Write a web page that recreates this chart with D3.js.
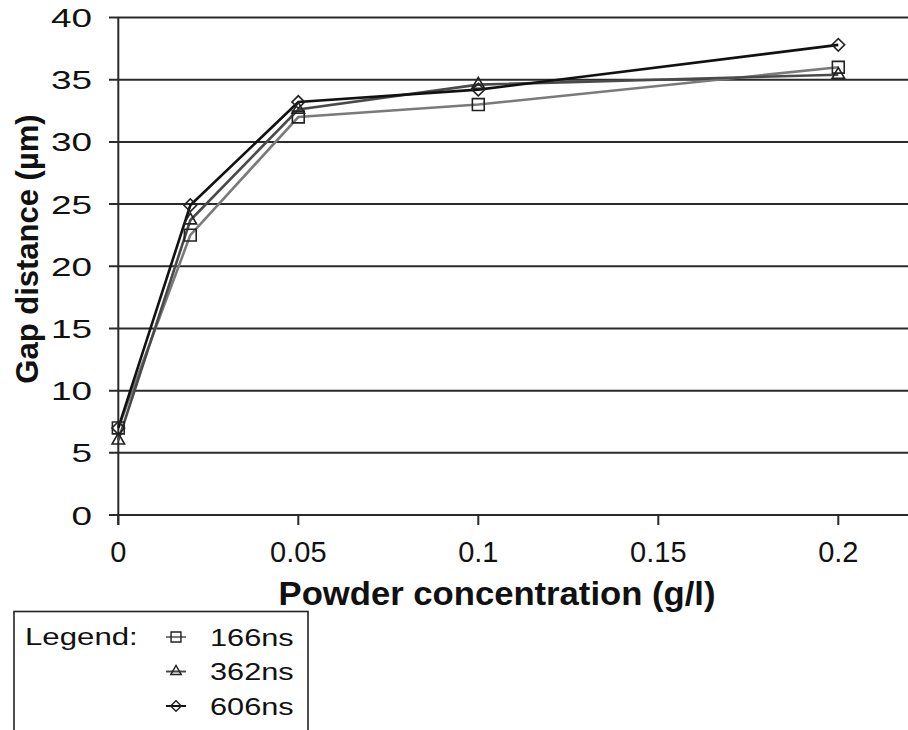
<!DOCTYPE html>
<html>
<head>
<meta charset="utf-8">
<script src="https://cdn.jsdelivr.net/npm/d3@7"></script>
<style>
  html, body { margin: 0; padding: 0; background: #fff; }
  svg { display: block; font-family: "Liberation Sans", Arial, sans-serif; }
</style>
</head>
<body>
<svg id="chart" width="908" height="730"></svg>
<script>
// ---- data ----
const concentrations = [0, 0.02, 0.05, 0.1, 0.2];
const series166 = [7.0, 22.5, 32.0, 33.0, 36.0];
const series362 = [6.0, 23.7, 32.6, 34.6, 35.4];
const series606 = [7.0, 24.9, 33.2, 34.2, 37.8];
const seriesNames = ["166ns", "362ns", "606ns"];
const xTicks = [0, 0.05, 0.1, 0.15, 0.2];
const xTickLabels = ["0", "0.05", "0.1", "0.15", "0.2"];
const yTicks = [0, 5, 10, 15, 20, 25, 30, 35, 40];
const xTitle = "Powder concentration (g/l)";
const yTitle = "Gap distance (µm)";
const legendTitle = "Legend:";

const svg = d3.select("#chart");
const x = d3.scaleLinear().domain([0, 0.22]).range([118.3, 910.3]);
const y = d3.scaleLinear().domain([0, 40]).range([515, 17.5]);

const seriesList = [
  { name: seriesNames[0], values: series166, color: "#7a7a7a", symbol: d3.symbolSquare, size: 140, rot: 0 },
  { name: seriesNames[1], values: series362, color: "#4a4a4a", symbol: d3.symbolTriangle, size: 68, rot: 0 },
  { name: seriesNames[2], values: series606, color: "#111111", symbol: d3.symbolSquare, size: 80, rot: 45 }
];

// grid lines
svg.append("g").selectAll("line").data(yTicks).join("line")
  .attr("x1", 109).attr("x2", 908)
  .attr("y1", d => y(d)).attr("y2", d => y(d))
  .attr("stroke", "#2a2a2a").attr("stroke-width", 2);

// y axis line
svg.append("line").attr("x1", x(0)).attr("x2", x(0))
  .attr("y1", y(40)).attr("y2", y(0) + 10)
  .attr("stroke", "#2a2a2a").attr("stroke-width", 2);

// x ticks
svg.append("g").selectAll("line").data(xTicks).join("line")
  .attr("x1", d => x(d)).attr("x2", d => x(d))
  .attr("y1", y(0)).attr("y2", y(0) + 10)
  .attr("stroke", "#2a2a2a").attr("stroke-width", 2);

// y tick labels (horizontally stretched like the reference)
svg.append("g").selectAll("text").data(yTicks).join("text")
  .attr("transform", d => `translate(92,${y(d) + 9.5}) scale(1.42,1)`)
  .attr("text-anchor", "end")
  .attr("font-size", 26)
  .attr("fill", "#111")
  .text(d => d);

// x tick labels
svg.append("g").selectAll("text").data(xTicks).join("text")
  .attr("x", d => x(d)).attr("y", 562)
  .attr("text-anchor", "middle")
  .attr("font-size", 29)
  .attr("fill", "#111")
  .text((d, i) => xTickLabels[i]);

// axis titles
svg.append("text")
  .attr("transform", "translate(497,605) scale(1.05,1)")
  .attr("text-anchor", "middle")
  .attr("font-size", 33).attr("font-weight", "bold")
  .attr("fill", "#111")
  .text(xTitle);

svg.append("text")
  .attr("transform", "translate(38,249) rotate(-90)")
  .attr("text-anchor", "middle")
  .attr("font-size", 31).attr("font-weight", "bold")
  .attr("fill", "#111")
  .text(yTitle);

// lines and markers
const line = d3.line().x((d, i) => x(concentrations[i])).y(d => y(d));
seriesList.forEach(s => {
  svg.append("path").datum(s.values)
    .attr("d", line)
    .attr("fill", "none")
    .attr("stroke", s.color)
    .attr("stroke-width", 2.6);
});
seriesList.forEach(s => {
  svg.append("g").selectAll("path").data(s.values).join("path")
    .attr("transform", (d, i) => `translate(${x(concentrations[i])},${y(d)}) rotate(${s.rot})`)
    .attr("d", d3.symbol().type(s.symbol).size(s.size))
    .attr("fill", "none")
    .attr("stroke", "#222")
    .attr("stroke-width", 1.6);
});

// legend
const lg = svg.append("g");
lg.append("rect").attr("x", 14).attr("y", 611.5).attr("width", 294).attr("height", 130)
  .attr("fill", "#fff").attr("stroke", "#222").attr("stroke-width", 1.6);
lg.append("text")
  .attr("transform", "translate(25,645) scale(1.3,1)")
  .attr("font-size", 24).attr("fill", "#111")
  .text(legendTitle);
seriesList.forEach((s, i) => {
  const cy = 637 + i * 34.5;
  lg.append("line").attr("x1", 166).attr("x2", 186).attr("y1", cy).attr("y2", cy)
    .attr("stroke", s.color).attr("stroke-width", 2);
  lg.append("path").attr("transform", `translate(176,${cy}) rotate(${s.rot})`)
    .attr("d", d3.symbol().type(s.symbol).size(s.size * 0.7))
    .attr("fill", "none").attr("stroke", "#222").attr("stroke-width", 1.4);
  lg.append("text")
    .attr("transform", `translate(210,${cy + 8.5}) scale(1.28,1)`)
    .attr("font-size", 24).attr("fill", "#111")
    .text(s.name);
});
</script>
</body>
</html>
